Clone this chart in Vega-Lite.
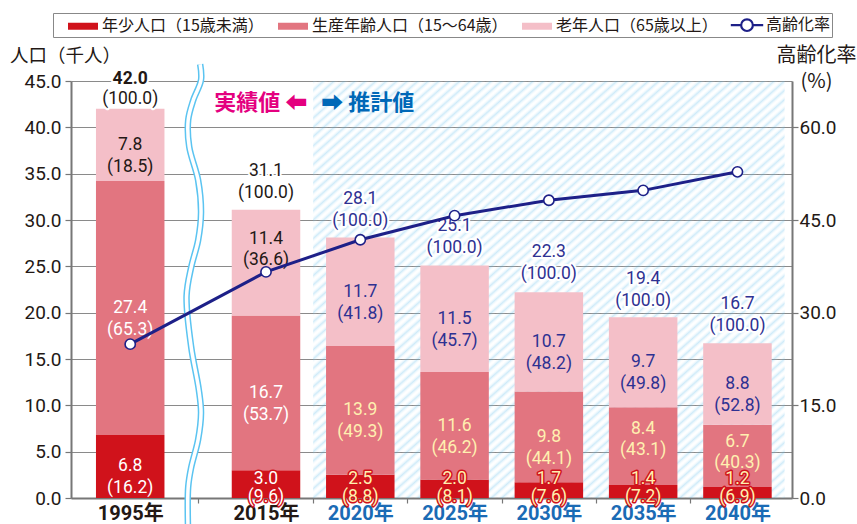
{
  "$schema": "https://vega.github.io/schema/vega-lite/v6.json",
  "width": 721,
  "height": 417,
  "autosize": "none",
  "padding": {"left": 71, "top": 81, "right": 65, "bottom": 26},
  "background": "#ffffff",
  "config": {"view": {"stroke": null}, "font": "Roboto"},
  "datasets": {
    "pop": [
      {"year": 1995, "group": "年少人口（15歳未満）", "value": 6.8, "pct": 16.2},
      {"year": 1995, "group": "生産年齢人口（15〜64歳）", "value": 27.4, "pct": 65.3},
      {"year": 1995, "group": "老年人口（65歳以上）", "value": 7.8, "pct": 18.5},
      {"year": 2015, "group": "年少人口（15歳未満）", "value": 3.0, "pct": 9.6},
      {"year": 2015, "group": "生産年齢人口（15〜64歳）", "value": 16.7, "pct": 53.7},
      {"year": 2015, "group": "老年人口（65歳以上）", "value": 11.4, "pct": 36.6},
      {"year": 2020, "group": "年少人口（15歳未満）", "value": 2.5, "pct": 8.8},
      {"year": 2020, "group": "生産年齢人口（15〜64歳）", "value": 13.9, "pct": 49.3},
      {"year": 2020, "group": "老年人口（65歳以上）", "value": 11.7, "pct": 41.8},
      {"year": 2025, "group": "年少人口（15歳未満）", "value": 2.0, "pct": 8.1},
      {"year": 2025, "group": "生産年齢人口（15〜64歳）", "value": 11.6, "pct": 46.2},
      {"year": 2025, "group": "老年人口（65歳以上）", "value": 11.5, "pct": 45.7},
      {"year": 2030, "group": "年少人口（15歳未満）", "value": 1.7, "pct": 7.6},
      {"year": 2030, "group": "生産年齢人口（15〜64歳）", "value": 9.8, "pct": 44.1},
      {"year": 2030, "group": "老年人口（65歳以上）", "value": 10.7, "pct": 48.2},
      {"year": 2035, "group": "年少人口（15歳未満）", "value": 1.4, "pct": 7.2},
      {"year": 2035, "group": "生産年齢人口（15〜64歳）", "value": 8.4, "pct": 43.1},
      {"year": 2035, "group": "老年人口（65歳以上）", "value": 9.7, "pct": 49.8},
      {"year": 2040, "group": "年少人口（15歳未満）", "value": 1.2, "pct": 6.9},
      {"year": 2040, "group": "生産年齢人口（15〜64歳）", "value": 6.7, "pct": 40.3},
      {"year": 2040, "group": "老年人口（65歳以上）", "value": 8.8, "pct": 52.8}
    ],
    "totals": [
      {"year": 1995, "total": 42.0},
      {"year": 2015, "total": 31.1},
      {"year": 2020, "total": 28.1},
      {"year": 2025, "total": 25.1},
      {"year": 2030, "total": 22.3},
      {"year": 2035, "total": 19.4},
      {"year": 2040, "total": 16.7}
    ],
    "rate": [
      {"year": 1995, "rate": 24.9},
      {"year": 2015, "rate": 36.6},
      {"year": 2020, "rate": 41.8},
      {"year": 2025, "rate": 45.7},
      {"year": 2030, "rate": 48.2},
      {"year": 2035, "rate": 49.8},
      {"year": 2040, "rate": 52.8}
    ],
    "wave": [
      {"year": 2005.3, "value": 46.8},
      {"year": 2005.43, "value": 45.1},
      {"year": 2004.27, "value": 42.9},
      {"year": 2003.54, "value": 40.8},
      {"year": 2003.69, "value": 37.9},
      {"year": 2005.0, "value": 34.3},
      {"year": 2005.43, "value": 30.8},
      {"year": 2005.0, "value": 27.8},
      {"year": 2003.98, "value": 24.9},
      {"year": 2003.3, "value": 21.8},
      {"year": 2003.98, "value": 16.3},
      {"year": 2005.1, "value": 11.7},
      {"year": 2005.43, "value": 9.2},
      {"year": 2005.0, "value": 6.3},
      {"year": 2003.98, "value": 3.3},
      {"year": 2003.54, "value": 1.2},
      {"year": 2003.5, "value": -2.8}
    ]
  },
  "layer": [
    {
      "data": {"values": [{}]},
      "mark": {
        "type": "rect",
        "fill": {
          "gradient": "linear", "x1": 0, "y1": 0, "x2": 1, "y2": 1,
          "stops": [
            {"offset": 0, "color": "rgba(100,190,235,0.31)"},{"offset": 0.0056, "color": "rgba(255,255,255,0)"},{"offset": 0.0111, "color": "rgba(100,190,235,0.31)"},{"offset": 0.0167, "color": "rgba(255,255,255,0)"},{"offset": 0.0222, "color": "rgba(100,190,235,0.31)"},{"offset": 0.0278, "color": "rgba(255,255,255,0)"},{"offset": 0.0333, "color": "rgba(100,190,235,0.31)"},{"offset": 0.0389, "color": "rgba(255,255,255,0)"},{"offset": 0.0444, "color": "rgba(100,190,235,0.31)"},
            {"offset": 0.05, "color": "rgba(255,255,255,0)"},{"offset": 0.0556, "color": "rgba(100,190,235,0.31)"},{"offset": 0.0611, "color": "rgba(255,255,255,0)"},{"offset": 0.0667, "color": "rgba(100,190,235,0.31)"},{"offset": 0.0722, "color": "rgba(255,255,255,0)"},{"offset": 0.0778, "color": "rgba(100,190,235,0.31)"},{"offset": 0.0833, "color": "rgba(255,255,255,0)"},{"offset": 0.0889, "color": "rgba(100,190,235,0.31)"},{"offset": 0.0944, "color": "rgba(255,255,255,0)"},
            {"offset": 0.1, "color": "rgba(100,190,235,0.31)"},{"offset": 0.1056, "color": "rgba(255,255,255,0)"},{"offset": 0.1111, "color": "rgba(100,190,235,0.31)"},{"offset": 0.1167, "color": "rgba(255,255,255,0)"},{"offset": 0.1222, "color": "rgba(100,190,235,0.31)"},{"offset": 0.1278, "color": "rgba(255,255,255,0)"},{"offset": 0.1333, "color": "rgba(100,190,235,0.31)"},{"offset": 0.1389, "color": "rgba(255,255,255,0)"},{"offset": 0.1444, "color": "rgba(100,190,235,0.31)"},
            {"offset": 0.15, "color": "rgba(255,255,255,0)"},{"offset": 0.1556, "color": "rgba(100,190,235,0.31)"},{"offset": 0.1611, "color": "rgba(255,255,255,0)"},{"offset": 0.1667, "color": "rgba(100,190,235,0.31)"},{"offset": 0.1722, "color": "rgba(255,255,255,0)"},{"offset": 0.1778, "color": "rgba(100,190,235,0.31)"},{"offset": 0.1833, "color": "rgba(255,255,255,0)"},{"offset": 0.1889, "color": "rgba(100,190,235,0.31)"},{"offset": 0.1944, "color": "rgba(255,255,255,0)"},
            {"offset": 0.2, "color": "rgba(100,190,235,0.31)"},{"offset": 0.2056, "color": "rgba(255,255,255,0)"},{"offset": 0.2111, "color": "rgba(100,190,235,0.31)"},{"offset": 0.2167, "color": "rgba(255,255,255,0)"},{"offset": 0.2222, "color": "rgba(100,190,235,0.31)"},{"offset": 0.2278, "color": "rgba(255,255,255,0)"},{"offset": 0.2333, "color": "rgba(100,190,235,0.31)"},{"offset": 0.2389, "color": "rgba(255,255,255,0)"},{"offset": 0.2444, "color": "rgba(100,190,235,0.31)"},
            {"offset": 0.25, "color": "rgba(255,255,255,0)"},{"offset": 0.2556, "color": "rgba(100,190,235,0.31)"},{"offset": 0.2611, "color": "rgba(255,255,255,0)"},{"offset": 0.2667, "color": "rgba(100,190,235,0.31)"},{"offset": 0.2722, "color": "rgba(255,255,255,0)"},{"offset": 0.2778, "color": "rgba(100,190,235,0.31)"},{"offset": 0.2833, "color": "rgba(255,255,255,0)"},{"offset": 0.2889, "color": "rgba(100,190,235,0.31)"},{"offset": 0.2944, "color": "rgba(255,255,255,0)"},
            {"offset": 0.3, "color": "rgba(100,190,235,0.31)"},{"offset": 0.3056, "color": "rgba(255,255,255,0)"},{"offset": 0.3111, "color": "rgba(100,190,235,0.31)"},{"offset": 0.3167, "color": "rgba(255,255,255,0)"},{"offset": 0.3222, "color": "rgba(100,190,235,0.31)"},{"offset": 0.3278, "color": "rgba(255,255,255,0)"},{"offset": 0.3333, "color": "rgba(100,190,235,0.31)"},{"offset": 0.3389, "color": "rgba(255,255,255,0)"},{"offset": 0.3444, "color": "rgba(100,190,235,0.31)"},
            {"offset": 0.35, "color": "rgba(255,255,255,0)"},{"offset": 0.3556, "color": "rgba(100,190,235,0.31)"},{"offset": 0.3611, "color": "rgba(255,255,255,0)"},{"offset": 0.3667, "color": "rgba(100,190,235,0.31)"},{"offset": 0.3722, "color": "rgba(255,255,255,0)"},{"offset": 0.3778, "color": "rgba(100,190,235,0.31)"},{"offset": 0.3833, "color": "rgba(255,255,255,0)"},{"offset": 0.3889, "color": "rgba(100,190,235,0.31)"},{"offset": 0.3944, "color": "rgba(255,255,255,0)"},
            {"offset": 0.4, "color": "rgba(100,190,235,0.31)"},{"offset": 0.4056, "color": "rgba(255,255,255,0)"},{"offset": 0.4111, "color": "rgba(100,190,235,0.31)"},{"offset": 0.4167, "color": "rgba(255,255,255,0)"},{"offset": 0.4222, "color": "rgba(100,190,235,0.31)"},{"offset": 0.4278, "color": "rgba(255,255,255,0)"},{"offset": 0.4333, "color": "rgba(100,190,235,0.31)"},{"offset": 0.4389, "color": "rgba(255,255,255,0)"},{"offset": 0.4444, "color": "rgba(100,190,235,0.31)"},
            {"offset": 0.45, "color": "rgba(255,255,255,0)"},{"offset": 0.4556, "color": "rgba(100,190,235,0.31)"},{"offset": 0.4611, "color": "rgba(255,255,255,0)"},{"offset": 0.4667, "color": "rgba(100,190,235,0.31)"},{"offset": 0.4722, "color": "rgba(255,255,255,0)"},{"offset": 0.4778, "color": "rgba(100,190,235,0.31)"},{"offset": 0.4833, "color": "rgba(255,255,255,0)"},{"offset": 0.4889, "color": "rgba(100,190,235,0.31)"},{"offset": 0.4944, "color": "rgba(255,255,255,0)"},
            {"offset": 0.5, "color": "rgba(100,190,235,0.31)"},{"offset": 0.5056, "color": "rgba(255,255,255,0)"},{"offset": 0.5111, "color": "rgba(100,190,235,0.31)"},{"offset": 0.5167, "color": "rgba(255,255,255,0)"},{"offset": 0.5222, "color": "rgba(100,190,235,0.31)"},{"offset": 0.5278, "color": "rgba(255,255,255,0)"},{"offset": 0.5333, "color": "rgba(100,190,235,0.31)"},{"offset": 0.5389, "color": "rgba(255,255,255,0)"},{"offset": 0.5444, "color": "rgba(100,190,235,0.31)"},
            {"offset": 0.55, "color": "rgba(255,255,255,0)"},{"offset": 0.5556, "color": "rgba(100,190,235,0.31)"},{"offset": 0.5611, "color": "rgba(255,255,255,0)"},{"offset": 0.5667, "color": "rgba(100,190,235,0.31)"},{"offset": 0.5722, "color": "rgba(255,255,255,0)"},{"offset": 0.5778, "color": "rgba(100,190,235,0.31)"},{"offset": 0.5833, "color": "rgba(255,255,255,0)"},{"offset": 0.5889, "color": "rgba(100,190,235,0.31)"},{"offset": 0.5944, "color": "rgba(255,255,255,0)"},
            {"offset": 0.6, "color": "rgba(100,190,235,0.31)"},{"offset": 0.6056, "color": "rgba(255,255,255,0)"},{"offset": 0.6111, "color": "rgba(100,190,235,0.31)"},{"offset": 0.6167, "color": "rgba(255,255,255,0)"},{"offset": 0.6222, "color": "rgba(100,190,235,0.31)"},{"offset": 0.6278, "color": "rgba(255,255,255,0)"},{"offset": 0.6333, "color": "rgba(100,190,235,0.31)"},{"offset": 0.6389, "color": "rgba(255,255,255,0)"},{"offset": 0.6444, "color": "rgba(100,190,235,0.31)"},
            {"offset": 0.65, "color": "rgba(255,255,255,0)"},{"offset": 0.6556, "color": "rgba(100,190,235,0.31)"},{"offset": 0.6611, "color": "rgba(255,255,255,0)"},{"offset": 0.6667, "color": "rgba(100,190,235,0.31)"},{"offset": 0.6722, "color": "rgba(255,255,255,0)"},{"offset": 0.6778, "color": "rgba(100,190,235,0.31)"},{"offset": 0.6833, "color": "rgba(255,255,255,0)"},{"offset": 0.6889, "color": "rgba(100,190,235,0.31)"},{"offset": 0.6944, "color": "rgba(255,255,255,0)"},
            {"offset": 0.7, "color": "rgba(100,190,235,0.31)"},{"offset": 0.7056, "color": "rgba(255,255,255,0)"},{"offset": 0.7111, "color": "rgba(100,190,235,0.31)"},{"offset": 0.7167, "color": "rgba(255,255,255,0)"},{"offset": 0.7222, "color": "rgba(100,190,235,0.31)"},{"offset": 0.7278, "color": "rgba(255,255,255,0)"},{"offset": 0.7333, "color": "rgba(100,190,235,0.31)"},{"offset": 0.7389, "color": "rgba(255,255,255,0)"},{"offset": 0.7444, "color": "rgba(100,190,235,0.31)"},
            {"offset": 0.75, "color": "rgba(255,255,255,0)"},{"offset": 0.7556, "color": "rgba(100,190,235,0.31)"},{"offset": 0.7611, "color": "rgba(255,255,255,0)"},{"offset": 0.7667, "color": "rgba(100,190,235,0.31)"},{"offset": 0.7722, "color": "rgba(255,255,255,0)"},{"offset": 0.7778, "color": "rgba(100,190,235,0.31)"},{"offset": 0.7833, "color": "rgba(255,255,255,0)"},{"offset": 0.7889, "color": "rgba(100,190,235,0.31)"},{"offset": 0.7944, "color": "rgba(255,255,255,0)"},
            {"offset": 0.8, "color": "rgba(100,190,235,0.31)"},{"offset": 0.8056, "color": "rgba(255,255,255,0)"},{"offset": 0.8111, "color": "rgba(100,190,235,0.31)"},{"offset": 0.8167, "color": "rgba(255,255,255,0)"},{"offset": 0.8222, "color": "rgba(100,190,235,0.31)"},{"offset": 0.8278, "color": "rgba(255,255,255,0)"},{"offset": 0.8333, "color": "rgba(100,190,235,0.31)"},{"offset": 0.8389, "color": "rgba(255,255,255,0)"},{"offset": 0.8444, "color": "rgba(100,190,235,0.31)"},
            {"offset": 0.85, "color": "rgba(255,255,255,0)"},{"offset": 0.8556, "color": "rgba(100,190,235,0.31)"},{"offset": 0.8611, "color": "rgba(255,255,255,0)"},{"offset": 0.8667, "color": "rgba(100,190,235,0.31)"},{"offset": 0.8722, "color": "rgba(255,255,255,0)"},{"offset": 0.8778, "color": "rgba(100,190,235,0.31)"},{"offset": 0.8833, "color": "rgba(255,255,255,0)"},{"offset": 0.8889, "color": "rgba(100,190,235,0.31)"},{"offset": 0.8944, "color": "rgba(255,255,255,0)"},
            {"offset": 0.9, "color": "rgba(100,190,235,0.31)"},{"offset": 0.9056, "color": "rgba(255,255,255,0)"},{"offset": 0.9111, "color": "rgba(100,190,235,0.31)"},{"offset": 0.9167, "color": "rgba(255,255,255,0)"},{"offset": 0.9222, "color": "rgba(100,190,235,0.31)"},{"offset": 0.9278, "color": "rgba(255,255,255,0)"},{"offset": 0.9333, "color": "rgba(100,190,235,0.31)"},{"offset": 0.9389, "color": "rgba(255,255,255,0)"},{"offset": 0.9444, "color": "rgba(100,190,235,0.31)"},
            {"offset": 0.95, "color": "rgba(255,255,255,0)"},{"offset": 0.9556, "color": "rgba(100,190,235,0.31)"},{"offset": 0.9611, "color": "rgba(255,255,255,0)"},{"offset": 0.9667, "color": "rgba(100,190,235,0.31)"},{"offset": 0.9722, "color": "rgba(255,255,255,0)"},{"offset": 0.9778, "color": "rgba(100,190,235,0.31)"},{"offset": 0.9833, "color": "rgba(255,255,255,0)"},{"offset": 0.9889, "color": "rgba(100,190,235,0.31)"},{"offset": 0.9944, "color": "rgba(255,255,255,0)"},
            {"offset": 1, "color": "rgba(100,190,235,0.31)"}
          ]
        }
      },
      "encoding": {
        "x": {"datum": 2017.5, "type": "quantitative", "scale": {"domain": [1986.67, 2015, 2042.5], "range": [0, 195, 721], "nice": false, "zero": false}},
        "x2": {"datum": 2042.5},
        "y": {"datum": 0, "type": "quantitative", "scale": {"domain": [0, 45], "nice": false, "zero": true}, "axis": null},
        "y2": {"datum": 45}
      }
    },
    {
      "data": {"name": "wave"},
      "mark": {"type": "line", "color": "#5bc4f1", "strokeWidth": 6.5, "interpolate": "catmull-rom"},
      "encoding": {
        "x": {"field": "year", "type": "quantitative"},
        "y": {"field": "value", "type": "quantitative", "scale": {"domain": [0, 45], "nice": false, "zero": true}, "axis": null},
        "order": {"field": "value", "type": "quantitative"}
      }
    },
    {
      "data": {"name": "wave"},
      "mark": {"type": "line", "color": "#ffffff", "strokeWidth": 3.5, "interpolate": "catmull-rom"},
      "encoding": {
        "x": {"field": "year", "type": "quantitative"},
        "y": {"field": "value", "type": "quantitative", "scale": {"domain": [0, 45], "nice": false, "zero": true}, "axis": null},
        "order": {"field": "value", "type": "quantitative"}
      }
    },
    {
      "data": {"name": "pop"},
      "mark": {"type": "bar", "width": 68.5},
      "encoding": {
        "x": {
          "field": "year", "type": "quantitative",
          "scale": {"domain": [1986.67, 2015, 2042.5], "range": [0, 195, 721], "nice": false, "zero": false},
          "axis": {
            "title": null,
            "values": [1995, 2005, 2015, 2017.5, 2020, 2022.5, 2025, 2027.5, 2030, 2032.5, 2035, 2037.5, 2040],
            "labelExpr": "indexof([1995,2015,2020,2025,2030,2035,2040], datum.value) >= 0 ? datum.value + '年' : ''",
            "labelFont": "Roboto, Noto Sans CJK JP", "labelFontSize": 20, "labelFontWeight": "bold",
            "labelColor": {"condition": {"test": "datum.value >= 2020", "value": "#1a6bb5"}, "value": "#231815"},
            "labelBaseline": "top", "labelPadding": 0, "labelOverlap": false, "labelFlush": false, "labelBound": false,
            "tickSize": 5, "tickColor": "#777777", "tickWidth": 1.2,
            "tickOpacity": {"condition": {"test": "indexof([1995,2015,2020,2025,2030,2035,2040], datum.value) >= 0", "value": 0}, "value": 1},
            "domainColor": "#777777", "domainWidth": 2, "grid": false
          }
        },
        "y": {
          "field": "value", "type": "quantitative", "stack": "zero",
          "scale": {"domain": [0, 45], "nice": false, "zero": true},
          "axis": {
            "orient": "left",
            "title": "人口（千人）", "titleAngle": 0, "titleX": -6, "titleY": -26, "titleAlign": "center", "titleBaseline": "middle",
            "titleFont": "Noto Sans CJK JP", "titleFontSize": 18.5, "titleFontWeight": "normal", "titleColor": "#231815",
            "values": [0, 5, 10, 15, 20, 25, 30, 35, 40, 45], "format": ".1f",
            "labelFont": "Roboto", "labelFontSize": 19, "labelColor": "#231815", "labelPadding": 4,
            "tickSize": 6, "tickColor": "#777777", "tickWidth": 1.2,
            "domainColor": "#777777", "domainWidth": 2,
            "grid": true, "gridColor": "#8a8a8a", "gridWidth": 1.1
          }
        },
        "color": {
          "field": "group", "type": "nominal",
          "scale": {
            "domain": ["年少人口（15歳未満）", "生産年齢人口（15〜64歳）", "老年人口（65歳以上）", "高齢化率"],
            "range": ["#d0121b", "#e27580", "#f4bfc8", "#ffffff"]
          },
          "legend": {
            "orient": "none", "legendX": -18, "legendY": -68, "direction": "horizontal", "columns": 4, "title": null,
            "symbolType": "M-1.667,-0.389H1.667V0.389H-1.667Z", "symbolSize": 324,
            "labelFont": "Noto Sans CJK JP", "labelFontSize": 16, "labelColor": "#231815", "labelOffset": 8.5, "labelLimit": 400,
            "columnPadding": 0, "padding": 1.5, "symbolOffset": 18,
            "strokeColor": "#888888", "fillColor": "#ffffff",
            "encode": {
              "symbols": {
                "update": {
                  "shape": {"signal": "datum.value === '高齢化率' ? 'M-1.8,0H-0.65M0.65,0H1.8M0.65,0A0.65,0.65,0,1,1,-0.65,0A0.65,0.65,0,1,1,0.65,0Z' : 'M-1.667,-0.389H1.667V0.389H-1.667Z'"},
                  "fill": {"signal": "datum.value === '高齢化率' ? '#ffffff' : scale('color', datum.value)"},
                  "stroke": {"signal": "datum.value === '高齢化率' ? '#1d2088' : 'transparent'"},
                  "strokeWidth": {"value": 2.2},
                  "opacity": {"value": 1},
                  "fillOpacity": {"value": 1}
                }
              }
            }
          }
        },
        "order": {"field": "group", "type": "nominal"}
      }
    },
    {
      "data": {"name": "pop"},
      "transform": [
        {"calculate": "format(datum.value, '.1f') + '\\n(' + format(datum.pct, '.1f') + ')'", "as": "label"}
      ],
      "mark": {"type": "text", "font": "Roboto", "fontSize": 17.5, "lineBreak": "\n", "lineHeight": 22, "baseline": "middle", "align": "center"},
      "encoding": {
        "x": {"field": "year", "type": "quantitative"},
        "y": {"field": "value", "type": "quantitative", "stack": "zero", "bandPosition": 0.5, "scale": {"domain": [0, 45], "nice": false, "zero": true}, "axis": null},
        "detail": {"field": "group", "type": "nominal"},
        "order": {"field": "group", "type": "nominal"},
        "text": {"field": "label", "type": "nominal"},
        "color": {
          "condition": [
            {"test": "datum.group === '老年人口（65歳以上）' && datum.year <= 2015", "value": "#231815"},
            {"test": "datum.group === '老年人口（65歳以上）'", "value": "#2e3192"},
            {"test": "datum.year <= 2015", "value": "#ffffff"}
          ],
          "value": "#fff0b0"
        },
        "opacity": {
          "condition": {
            "test": "(datum.group === '年少人口（15歳未満）' && datum.year >= 2015) || (datum.group === '生産年齢人口（15〜64歳）' && datum.year >= 2035) || (datum.group === '老年人口（65歳以上）' && datum.year === 2015)",
            "value": 0
          },
          "value": 1
        }
      }
    },
    {
      "data": {"name": "pop"},
      "transform": [
        {"calculate": "format(datum.value, '.1f') + '\\n(' + format(datum.pct, '.1f') + ')'", "as": "label"}
      ],
      "mark": {"type": "text", "font": "Roboto", "fontSize": 17.5, "lineBreak": "\n", "lineHeight": 21, "baseline": "middle", "align": "center"},
      "encoding": {
        "x": {"field": "year", "type": "quantitative"},
        "y": {"field": "value", "type": "quantitative", "stack": "zero", "bandPosition": 0.72, "scale": {"domain": [0, 45], "nice": false, "zero": true}, "axis": null},
        "detail": {"field": "group", "type": "nominal"},
        "order": {"field": "group", "type": "nominal"},
        "text": {"field": "label", "type": "nominal"},
        "color": {
          "condition": [
            {"test": "datum.group === '老年人口（65歳以上）'", "value": "#231815"}
          ],
          "value": "#fff0b0"
        },
        "opacity": {
          "condition": {
            "test": "(datum.group === '生産年齢人口（15〜64歳）' && datum.year >= 2035) || (datum.group === '老年人口（65歳以上）' && datum.year === 2015)",
            "value": 1
          },
          "value": 0
        }
      }
    },
    {
      "data": {"name": "pop"},
      "transform": [
        {"filter": "datum.group === '年少人口（15歳未満）' && datum.year >= 2015"},
        {"calculate": "format(datum.value, '.1f') + '\\n(' + format(datum.pct, '.1f') + ')'", "as": "label"}
      ],
      "mark": {"type": "text", "font": "Roboto", "fontSize": 17.5, "lineBreak": "\n", "lineHeight": 18, "baseline": "middle", "align": "center", "stroke": "#d0121b", "strokeWidth": 3, "strokeJoin": "round"},
      "encoding": {
        "x": {"field": "year", "type": "quantitative"},
        "y": {"datum": 2.1, "type": "quantitative", "scale": {"domain": [0, 45], "nice": false, "zero": true}, "axis": null},
        "text": {"field": "label", "type": "nominal"},
        "color": {"value": "#d0121b"}
      }
    },
    {
      "data": {"name": "pop"},
      "transform": [
        {"filter": "datum.group === '年少人口（15歳未満）' && datum.year >= 2015"},
        {"calculate": "format(datum.value, '.1f') + '\\n(' + format(datum.pct, '.1f') + ')'", "as": "label"}
      ],
      "mark": {"type": "text", "font": "Roboto", "fontSize": 17.5, "lineBreak": "\n", "lineHeight": 18, "baseline": "middle", "align": "center"},
      "encoding": {
        "x": {"field": "year", "type": "quantitative"},
        "y": {"datum": 2.1, "type": "quantitative", "scale": {"domain": [0, 45], "nice": false, "zero": true}, "axis": null},
        "text": {"field": "label", "type": "nominal"},
        "color": {"condition": {"test": "datum.year <= 2015", "value": "#ffffff"}, "value": "#fff0b0"}
      }
    },
    {
      "data": {"name": "totals"},
      "mark": {"type": "text", "font": "Roboto", "fontSize": 17.5, "baseline": "middle", "align": "center", "dy": {"expr": "datum.year === 1995 ? -30 : -39"}, "stroke": "#ffffff", "strokeWidth": 4, "strokeJoin": "round", "fontWeight": {"expr": "datum.year === 1995 ? 'bold' : 'normal'"}},
      "encoding": {
        "x": {"field": "year", "type": "quantitative"},
        "y": {"field": "total", "type": "quantitative", "scale": {"domain": [0, 45], "nice": false, "zero": true}, "axis": null},
        "text": {"field": "total", "type": "quantitative", "format": ".1f"},
        "color": {"value": "#ffffff"}
      }
    },
    {
      "data": {"name": "totals"},
      "mark": {"type": "text", "font": "Roboto", "fontSize": 17.5, "baseline": "middle", "align": "center", "dy": {"expr": "datum.year === 1995 ? -30 : -39"}, "fontWeight": {"expr": "datum.year === 1995 ? 'bold' : 'normal'"}},
      "encoding": {
        "x": {"field": "year", "type": "quantitative"},
        "y": {"field": "total", "type": "quantitative", "scale": {"domain": [0, 45], "nice": false, "zero": true}, "axis": null},
        "text": {"field": "total", "type": "quantitative", "format": ".1f"},
        "color": {"condition": {"test": "datum.year <= 2015", "value": "#231815"}, "value": "#2e3192"}
      }
    },
    {
      "data": {"name": "totals"},
      "mark": {"type": "text", "font": "Roboto", "fontSize": 17.5, "baseline": "middle", "align": "center", "dy": {"expr": "datum.year === 1995 ? -10 : -17"}, "stroke": "#ffffff", "strokeWidth": 4, "strokeJoin": "round", "text": "(100.0)"},
      "encoding": {
        "x": {"field": "year", "type": "quantitative"},
        "y": {"field": "total", "type": "quantitative", "scale": {"domain": [0, 45], "nice": false, "zero": true}, "axis": null},
        "color": {"value": "#ffffff"}
      }
    },
    {
      "data": {"name": "totals"},
      "mark": {"type": "text", "font": "Roboto", "fontSize": 17.5, "baseline": "middle", "align": "center", "dy": {"expr": "datum.year === 1995 ? -10 : -17"}, "text": "(100.0)"},
      "encoding": {
        "x": {"field": "year", "type": "quantitative"},
        "y": {"field": "total", "type": "quantitative", "scale": {"domain": [0, 45], "nice": false, "zero": true}, "axis": null},
        "color": {"condition": {"test": "datum.year <= 2015", "value": "#231815"}, "value": "#2e3192"}
      }
    },
    {
      "data": {"values": [{}]},
      "mark": {"type": "text", "text": "実績値 ⬅", "align": "right", "baseline": "middle", "dx": -6, "font": "Noto Sans CJK JP", "fontSize": 22, "fontWeight": "bold", "color": "#e4007f"},
      "encoding": {
        "x": {"datum": 2017.5, "type": "quantitative"},
        "y": {"datum": 42.6, "type": "quantitative", "scale": {"domain": [0, 45], "nice": false, "zero": true}, "axis": null}
      }
    },
    {
      "data": {"values": [{}]},
      "mark": {"type": "text", "text": "➡ 推計値", "align": "left", "baseline": "middle", "dx": 8, "font": "Noto Sans CJK JP", "fontSize": 22, "fontWeight": "bold", "color": "#0068b7"},
      "encoding": {
        "x": {"datum": 2017.5, "type": "quantitative"},
        "y": {"datum": 42.6, "type": "quantitative", "scale": {"domain": [0, 45], "nice": false, "zero": true}, "axis": null}
      }
    },
    {
      "data": {"name": "rate"},
      "mark": {"type": "line", "color": "#1d2088", "strokeWidth": 3},
      "encoding": {
        "x": {"field": "year", "type": "quantitative"},
        "y": {
          "field": "rate", "type": "quantitative",
          "scale": {"domain": [0, 67.5], "nice": false, "zero": true},
          "axis": {
            "orient": "right",
            "title": ["高齢化率", "(%)"], "titleAngle": 0, "titleX": 24, "titleY": -26, "titleAlign": "center", "titleBaseline": "middle", "titleLineHeight": 26,
            "titleFont": "Noto Sans CJK JP", "titleFontSize": 20, "titleFontWeight": "normal", "titleColor": "#231815",
            "values": [0, 15, 30, 45, 60], "format": ".1f",
            "labelFont": "Roboto", "labelFontSize": 19, "labelColor": "#231815", "labelPadding": 1,
            "tickSize": 6, "tickColor": "#777777", "tickWidth": 1.2,
            "domainColor": "#777777", "domainWidth": 2, "grid": false
          }
        }
      }
    },
    {
      "data": {"name": "rate"},
      "mark": {"type": "point", "filled": true, "fill": "#ffffff", "stroke": "#1d2088", "strokeWidth": 1.6, "size": 105, "opacity": 1},
      "encoding": {
        "x": {"field": "year", "type": "quantitative"},
        "y": {"field": "rate", "type": "quantitative", "scale": {"domain": [0, 67.5], "nice": false, "zero": true}, "axis": null}
      }
    }
  ],
  "resolve": {"scale": {"y": "independent"}}
}
